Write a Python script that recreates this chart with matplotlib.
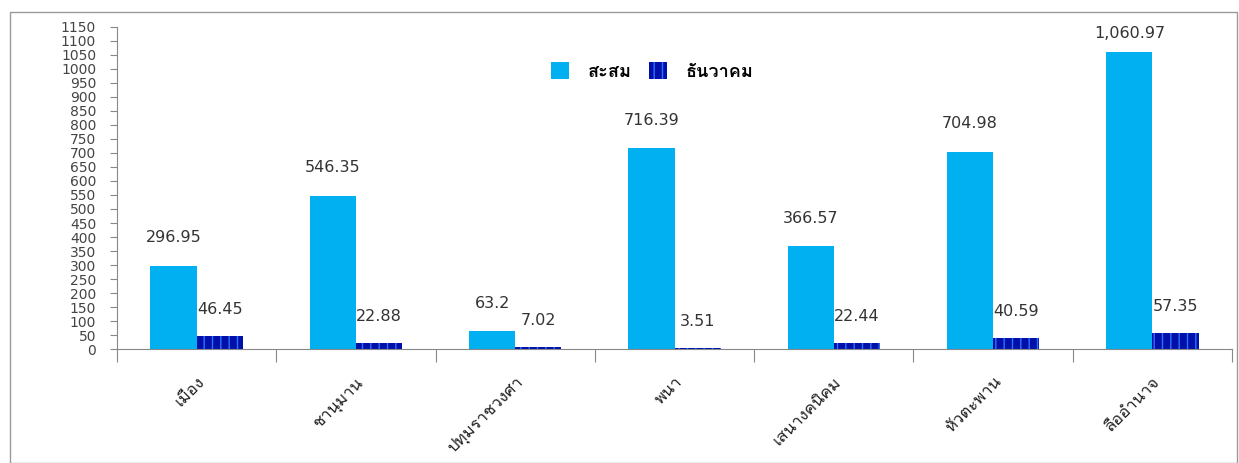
import numpy as np
import matplotlib
matplotlib.use("Agg")
import matplotlib.pyplot as plt
from matplotlib import font_manager
from matplotlib.patches import Rectangle
from fontTools.ttLib import TTFont

districts = ["เมือง", "ชานุมาน", "ปทุมราชวงศา", "พนา", "เสนางคนิคม", "หัวตะพาน", "ลืออำนาจ"]
cumulative = [296.95, 546.35, 63.2, 716.39, 366.57, 704.98, 1060.97]
december = [46.45, 22.88, 7.02, 3.51, 22.44, 40.59, 57.35]
cum_labels = ["296.95", "546.35", "63.2", "716.39", "366.57", "704.98", "1,060.97"]
dec_labels = ["46.45", "22.88", "7.02", "3.51", "22.44", "40.59", "57.35"]
series_names = ["สะสม", "ธันวาคม"]
y_ticks = list(range(0, 1151, 50))


def find_thai_font():
    # look for any installed font that has Thai glyphs
    for f in font_manager.fontManager.ttflist:
        try:
            tt = TTFont(f.fname, fontNumber=0, lazy=True)
            cmap = tt.getBestCmap()
            if cmap and 0x0E2A in cmap and 0x0E21 in cmap:
                return f.name
        except Exception:
            continue
    return None


thai = find_thai_font()
families = [thai, "DejaVu Sans"] if thai else ["DejaVu Sans"]

blue = "#00B0F0"
navy = "#0010A8"

fig = plt.figure(figsize=(12.39, 4.63), dpi=100)
ax = fig.add_axes([0.0944, 0.246, 0.9, 0.696])

x = np.arange(len(districts))
width = 0.29
ax.bar(x - width / 2, cumulative, width, color=blue, label=series_names[0])
ax.bar(x + width / 2, december, width, color=navy, hatch="||", edgecolor="#3070ff",
       linewidth=0, label=series_names[1])

for i in range(len(x)):
    ax.text(x[i] - width / 2, min(cumulative[i] + 100, 1128), cum_labels[i], ha="center", va="center",
            fontsize=11.5, color="#333333")
    ax.text(x[i] + width / 2, december[i] + 95, dec_labels[i], ha="center", va="center",
            fontsize=11.5, color="#333333")

ax.set_xlim(-0.5, len(x) - 0.5)
ax.set_ylim(0, 1150)
ax.set_yticks(y_ticks)
ax.set_yticklabels([str(t) for t in y_ticks], fontsize=10, color="#444444")
ax.tick_params(axis="y", length=5, color="#888888", pad=10)

ax.set_xticks(np.arange(len(x) + 1) - 0.5)
ax.set_xticklabels([])
ax.tick_params(axis="x", which="major", length=9, color="#888888")
ax.set_xticks(x, minor=True)
ax.set_xticklabels(districts, minor=True, rotation=45, ha="right", va="top",
                   rotation_mode="anchor", fontsize=12, family=families, color="#222222")
ax.tick_params(axis="x", which="minor", length=0, pad=18)

for s in ["top", "right"]:
    ax.spines[s].set_visible(False)
for s in ["left", "bottom"]:
    ax.spines[s].set_color("#888888")

ax.legend(loc="upper center", bbox_to_anchor=(0.48, 0.94), ncol=2, frameon=False,
          prop={"family": families, "size": 13, "weight": "bold"},
          handlelength=1.0, handleheight=1.0, columnspacing=1.0, handletextpad=1.0)

fig.add_artist(Rectangle((0.008, 0.0), 0.99, 0.974, transform=fig.transFigure,
                         fill=False, edgecolor="#999999", linewidth=1))

fig.savefig("out.png", dpi=100)
